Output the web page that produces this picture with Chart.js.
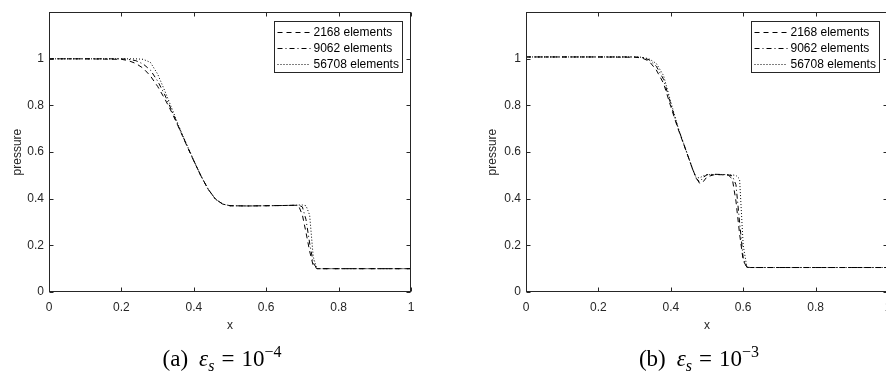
<!DOCTYPE html>
<html>
<head>
<meta charset="utf-8">
<script src="https://cdn.jsdelivr.net/npm/chart.js@4"></script>
<style>
  body { margin: 0; width: 886px; height: 371px; overflow: hidden; background: #fff; position: relative; }
  canvas { position: absolute; top: 0; }
  #c1 { left: 0; }
  #c2 { left: 470px; }
  .cap { position: absolute; top: 339px; font-family: "Liberation Serif", "DejaVu Serif", serif; font-size: 23px;
         color: #000; white-space: nowrap; transform: translateX(-50%); line-height: 26px; }
  .cap .g { display: inline-block; width: 11px; }
  .cap .m { display: inline-block; width: 7px; }
  .cap i { font-style: italic; }
  .cap sub { font-size: 16px; vertical-align: -5px; font-style: italic; }
  .cap sup { font-size: 16px; vertical-align: 9px; }
</style>
</head>
<body>
<canvas id="c1" width="470" height="340"></canvas>
<canvas id="c2" width="440" height="340"></canvas>
<div class="cap" style="left:222px">(a)<span class="g"></span><i>ε</i><sub>s</sub><span class="m"></span>=<span class="m"></span>10<sup>−4</sup></div>
<div class="cap" style="left:699px">(b)<span class="g"></span><i>ε</i><sub>s</sub><span class="m"></span>=<span class="m"></span>10<sup>−3</sup></div>
<script>
// series names and line styles (MATLAB '--', '-.', ':')
const seriesLabels = ['2168 elements', '9062 elements', '56708 elements'];
const dashes = [[5, 4], [5, 3, 1, 3], [1, 2]];

const xTicks = [0, 0.2, 0.4, 0.6, 0.8, 1];
const xTickLabels = ['0', '0.2', '0.4', '0.6', '0.8', '1'];
const yTicks = [0, 0.2, 0.4, 0.6, 0.8, 1];
const yTickLabels = ['0', '0.2', '0.4', '0.6', '0.8', '1'];

// (a) eps_s = 1e-4
const xA = [0, 0.1, 0.2, 0.22, 0.24, 0.26, 0.28, 0.3, 0.32, 0.34, 0.36, 0.38, 0.4, 0.42, 0.44, 0.46, 0.48, 0.5,
            0.55, 0.6, 0.65, 0.68, 0.69, 0.7, 0.71, 0.72, 0.73, 0.74, 0.75, 0.8, 0.9, 1];
const pA2168 = [1, 1, 0.998, 0.992, 0.98, 0.96, 0.927, 0.882, 0.828, 0.768, 0.7, 0.63, 0.562, 0.497, 0.44, 0.398, 0.377, 0.37,
                0.369, 0.37, 0.371, 0.372, 0.368, 0.33, 0.255, 0.175, 0.112, 0.1, 0.1, 0.1, 0.1, 0.1];
const pA9062 = [1, 1, 1, 0.998, 0.992, 0.978, 0.952, 0.905, 0.845, 0.775, 0.702, 0.632, 0.563, 0.497, 0.44, 0.398, 0.377, 0.37,
                0.369, 0.37, 0.371, 0.372, 0.372, 0.365, 0.31, 0.21, 0.125, 0.1, 0.1, 0.1, 0.1, 0.1];
const pA56708 = [1, 1, 1, 1, 1, 0.998, 0.985, 0.935, 0.862, 0.785, 0.706, 0.634, 0.564, 0.497, 0.44, 0.398, 0.377, 0.37,
                 0.369, 0.37, 0.371, 0.372, 0.373, 0.373, 0.37, 0.33, 0.15, 0.1, 0.1, 0.1, 0.1, 0.1];

// (b) eps_s = 1e-3
const xB = [0, 0.1, 0.2, 0.3, 0.32, 0.34, 0.36, 0.38, 0.4, 0.42, 0.44, 0.46, 0.47, 0.48, 0.49, 0.5, 0.52, 0.54,
            0.56, 0.57, 0.58, 0.59, 0.6, 0.61, 0.62, 0.7, 0.8, 0.9, 1];
const pB2168 = [1.008, 1.008, 1.008, 1.007, 1.004, 0.99, 0.952, 0.895, 0.795, 0.7, 0.615, 0.528, 0.49, 0.465, 0.474, 0.494, 0.503, 0.503,
                0.5, 0.485, 0.39, 0.25, 0.135, 0.106, 0.105, 0.105, 0.105, 0.105, 0.105];
const pB9062 = [1.008, 1.008, 1.008, 1.008, 1.006, 0.996, 0.968, 0.912, 0.805, 0.703, 0.616, 0.528, 0.487, 0.472, 0.492, 0.503, 0.505, 0.504,
                0.502, 0.498, 0.46, 0.3, 0.145, 0.106, 0.105, 0.105, 0.105, 0.105, 0.105];
const pB56708 = [1.008, 1.008, 1.008, 1.008, 1.007, 1.0, 0.98, 0.928, 0.815, 0.706, 0.617, 0.528, 0.49, 0.49, 0.498, 0.503, 0.504, 0.504,
                 0.503, 0.502, 0.5, 0.485, 0.2, 0.108, 0.105, 0.105, 0.105, 0.105, 0.105];

const axisColor = '#262626';
const font = { family: '"Liberation Sans", Arial, sans-serif', size: 12, lineHeight: 1.2 };

// box, inward ticks and legend, MATLAB style
const boxPlugin = {
  id: 'box',
  afterDatasetsDraw(chart) {
    const { ctx, chartArea: a, scales: { x, y } } = chart;
    const L = Math.round(a.left) + 0.5, R = Math.round(a.right) - 0.5;
    const T = Math.round(a.top) + 0.5, B = Math.round(a.bottom) - 0.5;
    const tl = 4;
    ctx.save();
    ctx.strokeStyle = axisColor;
    ctx.lineWidth = 1;
    ctx.setLineDash([]);
    ctx.strokeRect(L, T, R - L, B - T);
    ctx.beginPath();
    x.ticks.forEach(t => {
      const px = Math.round(x.getPixelForValue(t.value)) + 0.5;
      ctx.moveTo(px, B); ctx.lineTo(px, B - tl);
      ctx.moveTo(px, T); ctx.lineTo(px, T + tl);
    });
    y.ticks.forEach(t => {
      const py = Math.round(y.getPixelForValue(t.value)) + 0.5;
      ctx.moveTo(L, py); ctx.lineTo(L + tl, py);
      ctx.moveTo(R, py); ctx.lineTo(R - tl, py);
    });
    ctx.stroke();

    // legend
    const bw = 128, bh = 51;
    const bx = Math.round(a.right - 9 - bw) + 0.5, by = Math.round(a.top + 9) + 0.5;
    ctx.fillStyle = '#fff';
    ctx.fillRect(bx, by, bw, bh);
    ctx.strokeRect(bx, by, bw, bh);
    ctx.font = '12px "Liberation Sans", Arial, sans-serif';
    ctx.textBaseline = 'middle';
    ctx.textAlign = 'left';
    chart.data.datasets.forEach((ds, i) => {
      const ly = Math.round(by + 10 + i * 16) + 0.5;
      ctx.strokeStyle = '#000';
      ctx.setLineDash(ds.borderDash);
      ctx.beginPath();
      ctx.moveTo(bx + 3, ly); ctx.lineTo(bx + 36, ly);
      ctx.stroke();
      ctx.setLineDash([]);
      ctx.fillStyle = '#000';
      ctx.fillText(ds.label, bx + 39, ly + 0.5);
    });
    ctx.restore();
  }
};

function makeChart(id, xs, series, g) {
  return new Chart(document.getElementById(id), {
    type: 'scatter',
    data: {
      datasets: series.map((ys, i) => ({
        label: seriesLabels[i],
        data: xs.map((x, j) => ({ x: x, y: ys[j] })),
        showLine: true,
        pointRadius: 0,
        borderColor: '#000',
        borderWidth: 1,
        borderDash: dashes[i],
        tension: 0
      }))
    },
    options: {
      responsive: false,
      animation: false,
      layout: { padding: { left: 0, top: g.top, right: g.right, bottom: 0 } },
      plugins: { legend: { display: false }, tooltip: { enabled: false } },
      scales: {
        x: {
          type: 'linear', min: 0, max: 1,
          grid: { display: false, drawTicks: false }, border: { display: false },
          afterBuildTicks: s => { s.ticks = xTicks.map(v => ({ value: v })); },
          afterFit: s => { s.height = g.h - g.bottom; },
          ticks: { padding: 8, color: axisColor, font: font, maxRotation: 0, autoSkip: false,
                   callback: (v, i) => xTickLabels[i] },
          title: { display: true, text: 'x', color: axisColor, font: font, padding: { top: 0, bottom: 7 } }
        },
        y: {
          type: 'linear', min: 0, max: 1.2,
          grid: { display: false, drawTicks: false }, border: { display: false },
          afterBuildTicks: s => { s.ticks = yTicks.map(v => ({ value: v })); },
          afterFit: s => { s.width = g.left; },
          ticks: { padding: 5, color: axisColor, font: font, autoSkip: false,
                   callback: (v, i) => yTickLabels[i] },
          title: { display: true, text: 'pressure', color: axisColor, font: font, padding: { top: g.ytitle, bottom: 0 } }
        }
      }
    },
    plugins: [boxPlugin]
  });
}

makeChart('c1', xA, [pA2168, pA9062, pA56708], { left: 49, right: 59, top: 9, bottom: 292, h: 340, ytitle: 10 });
makeChart('c2', xB, [pB2168, pB9062, pB56708], { left: 56, right: 22, top: 9, bottom: 292, h: 340, ytitle: 15 });
</script>
</body>
</html>
